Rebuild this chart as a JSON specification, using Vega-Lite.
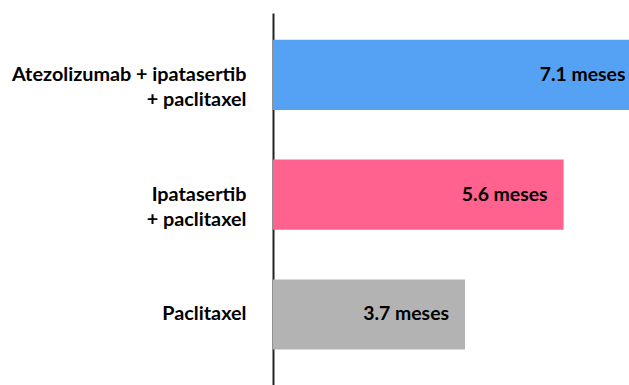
{
  "$schema": "https://vega.github.io/schema/vega-lite/v6.json",
  "width": 356,
  "height": 372,
  "autosize": {"type": "none"},
  "padding": {"left": 273, "top": 13, "right": 0, "bottom": 0},
  "background": "white",
  "config": {"view": {"stroke": null}, "font": "Lato"},
  "data": {
    "values": [
      {"tratamiento": "Atezolizumab + ipatasertib|+ paclitaxel", "meses": 7.1, "etiqueta": "7.1 meses", "color": "#55A2F4"},
      {"tratamiento": "Ipatasertib|+ paclitaxel", "meses": 5.6, "etiqueta": "5.6 meses", "color": "#FF628F"},
      {"tratamiento": "Paclitaxel", "meses": 3.7, "etiqueta": "3.7 meses", "color": "#B3B3B3"}
    ]
  },
  "encoding": {
    "y": {
      "field": "tratamiento",
      "type": "nominal",
      "sort": null,
      "scale": {"paddingInner": 0.415, "paddingOuter": 0.26, "align": 0.43},
      "axis": {
        "title": null,
        "ticks": false,
        "domain": true,
        "domainColor": "#222222",
        "domainWidth": 2,
        "labelExpr": "split(datum.label, '|')",
        "labelFont": "Lato",
        "labelFontWeight": "bold",
        "labelFontSize": 19.8,
        "labelColor": "#000000",
        "labelLineHeight": 25,
        "labelBaseline": "middle",
        "labelPadding": 27,
        "labelLimit": 400
      }
    },
    "x": {
      "field": "meses",
      "type": "quantitative",
      "scale": {"domain": [0, 6.86], "nice": false, "zero": true},
      "axis": null
    }
  },
  "layer": [
    {
      "mark": {"type": "bar", "clip": true},
      "encoding": {
        "color": {"field": "color", "type": "nominal", "scale": null, "legend": null}
      }
    },
    {
      "mark": {"type": "text", "align": "right", "baseline": "middle", "dx": -16, "font": "Lato", "fontWeight": "bold", "fontSize": 19.4, "color": "#000000"},
      "encoding": {"text": {"field": "etiqueta"}}
    }
  ]
}
